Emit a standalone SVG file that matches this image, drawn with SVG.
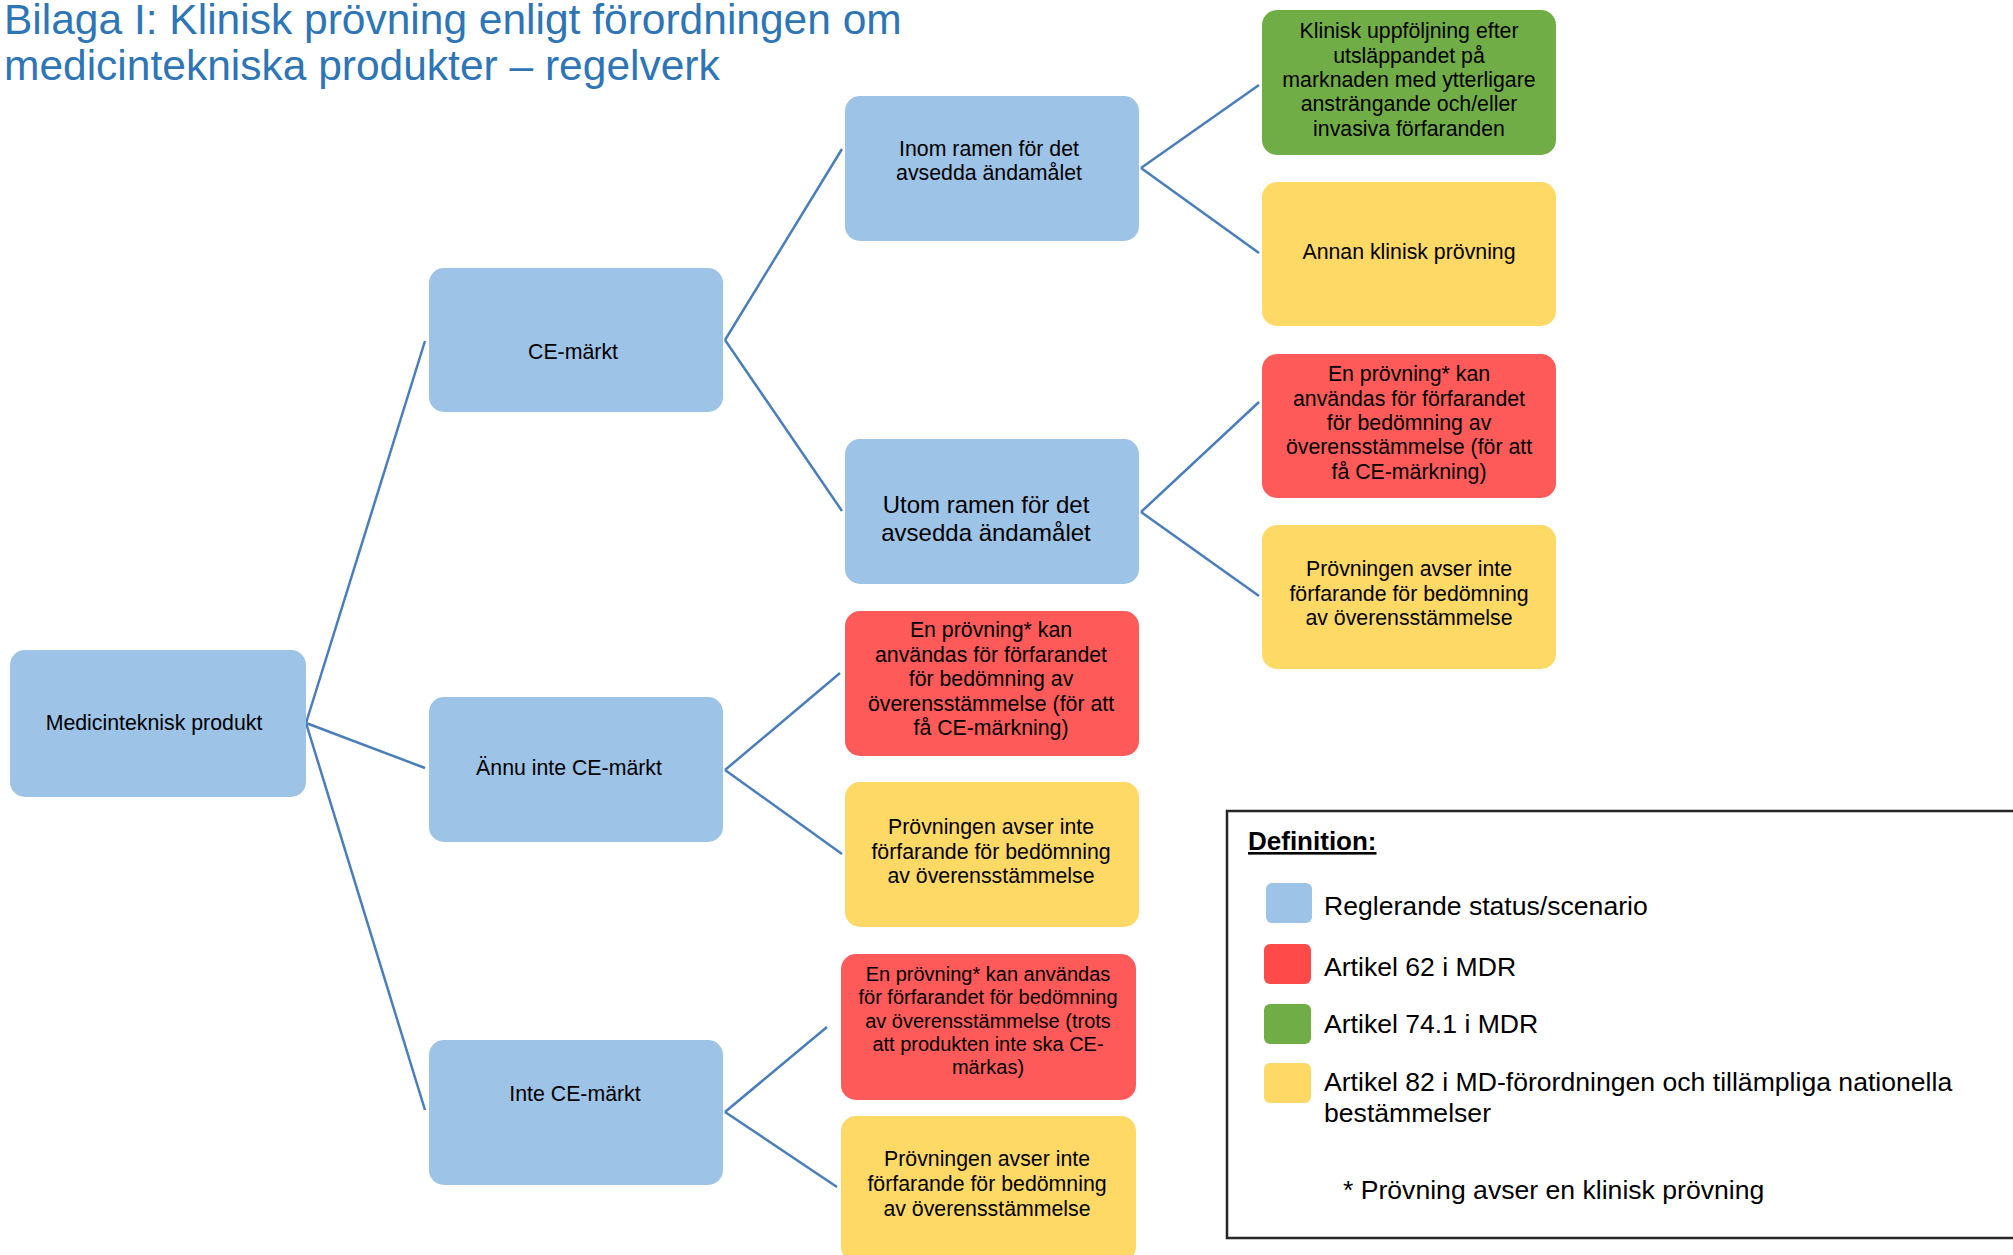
<svg xmlns="http://www.w3.org/2000/svg" width="2013" height="1255" viewBox="0 0 2013 1255">
<style>
  .t { font-family: "Liberation Sans", Arial, sans-serif; fill: #000; text-anchor: middle; }
  .n { font-size: 21.3px; }
  .s { font-size: 20px; }
  .b { fill: #9DC3E6; }
  .r { fill: #FF5A5A; }
  .y { fill: #FFD966; }
  .g { fill: #71AD47; }
  .c { stroke: #4A7EBB; stroke-width: 2.5; fill: none; }
  .lg { font-family: "Liberation Sans", Arial, sans-serif; font-size: 26.6px; fill: #000; }
  .title { font-family: "Liberation Sans", Arial, sans-serif; font-size: 42.5px; fill: #2E75B6; }
</style>
<rect width="2013" height="1255" fill="#fff"/>
<g id="title">
  <text class="title" x="4" y="34">Bilaga I: Klinisk prövning enligt förordningen om</text>
  <text class="title" x="4" y="80">medicintekniska produkter – regelverk</text>
</g>
<g id="connectors">
  <path class="c" d="M306 723 L425 341 M306 723 L425 768 M306 723 L425 1110"/>
  <path class="c" d="M725 340 L842 149 M725 340 L842 511"/>
  <path class="c" d="M725 770 L840 673 M725 770 L842 854"/>
  <path class="c" d="M725 1112 L827 1027 M725 1112 L837 1187"/>
  <path class="c" d="M1141 168 L1259 85 M1141 168 L1259 253"/>
  <path class="c" d="M1141 512 L1259 402 M1141 512 L1259 596"/>
</g>
<g id="node-medicinteknisk">
  <rect class="b" x="10" y="650" width="296" height="147" rx="15"/>
  <text class="t n" x="154" y="730">Medicinteknisk produkt</text>
</g>
<g id="node-ce">
  <rect class="b" x="429" y="268" width="294" height="144" rx="15"/>
  <text class="t n" x="573" y="359">CE-märkt</text>
</g>
<g id="node-annu">
  <rect class="b" x="429" y="697" width="294" height="145" rx="15"/>
  <text class="t n" x="569" y="775">Ännu inte CE-märkt</text>
</g>
<g id="node-inte">
  <rect class="b" x="429" y="1040" width="294" height="145" rx="15"/>
  <text class="t n" x="575" y="1101">Inte CE-märkt</text>
</g>
<g id="node-inom">
  <rect class="b" x="845" y="96" width="294" height="145" rx="15"/>
  <text class="t n" x="989" y="156">Inom ramen för det</text>
  <text class="t n" x="989" y="180">avsedda ändamålet</text>
</g>
<g id="node-utom">
  <rect class="b" x="845" y="439" width="294" height="145" rx="15"/>
  <text class="t" font-size="24" x="986" y="513">Utom ramen för det</text>
  <text class="t" font-size="24" x="986" y="541">avsedda ändamålet</text>
</g>
<g id="node-annu-red">
  <rect class="r" x="845" y="611" width="294" height="145" rx="15"/>
  <text class="t n" x="991" y="637">En prövning* kan</text>
  <text class="t n" x="991" y="662">användas för förfarandet</text>
  <text class="t n" x="991" y="686">för bedömning av</text>
  <text class="t n" x="991" y="711">överensstämmelse (för att</text>
  <text class="t n" x="991" y="735">få CE-märkning)</text>
</g>
<g id="node-annu-yellow">
  <rect class="y" x="845" y="782" width="294" height="145" rx="15"/>
  <text class="t n" x="991" y="834">Prövningen avser inte</text>
  <text class="t n" x="991" y="859">förfarande för bedömning</text>
  <text class="t n" x="991" y="883">av överensstämmelse</text>
</g>
<g id="node-inte-red">
  <rect class="r" x="841" y="954" width="295" height="146" rx="15"/>
  <text class="t s" x="988" y="981">En prövning* kan användas</text>
  <text class="t s" x="988" y="1004">för förfarandet för bedömning</text>
  <text class="t s" x="988" y="1028">av överensstämmelse (trots</text>
  <text class="t s" x="988" y="1051">att produkten inte ska CE-</text>
  <text class="t s" x="988" y="1074">märkas)</text>
</g>
<g id="node-inte-yellow">
  <rect class="y" x="841" y="1116" width="295" height="146" rx="15"/>
  <text class="t n" x="987" y="1166">Prövningen avser inte</text>
  <text class="t n" x="987" y="1191">förfarande för bedömning</text>
  <text class="t n" x="987" y="1216">av överensstämmelse</text>
</g>
<g id="node-green">
  <rect class="g" x="1262" y="10" width="294" height="145" rx="15"/>
  <text class="t n" x="1409" y="38">Klinisk uppföljning efter</text>
  <text class="t n" x="1409" y="63">utsläppandet på</text>
  <text class="t n" x="1409" y="87">marknaden med ytterligare</text>
  <text class="t n" x="1409" y="111">ansträngande och/eller</text>
  <text class="t n" x="1409" y="136">invasiva förfaranden</text>
</g>
<g id="node-annan">
  <rect class="y" x="1262" y="182" width="294" height="144" rx="15"/>
  <text class="t n" x="1409" y="259">Annan klinisk prövning</text>
</g>
<g id="node-utom-red">
  <rect class="r" x="1262" y="354" width="294" height="144" rx="15"/>
  <text class="t n" x="1409" y="381">En prövning* kan</text>
  <text class="t n" x="1409" y="406">användas för förfarandet</text>
  <text class="t n" x="1409" y="430">för bedömning av</text>
  <text class="t n" x="1409" y="454">överensstämmelse  (för att</text>
  <text class="t n" x="1409" y="479">få CE-märkning)</text>
</g>
<g id="node-utom-yellow">
  <rect class="y" x="1262" y="525" width="294" height="144" rx="15"/>
  <text class="t n" x="1409" y="576">Prövningen avser inte</text>
  <text class="t n" x="1409" y="601">förfarande för bedömning</text>
  <text class="t n" x="1409" y="625">av överensstämmelse</text>
</g>
<g id="legend">
  <rect x="1227" y="811" width="800" height="427" fill="#fff" stroke="#262626" stroke-width="2.5"/>
  <text x="1248" y="850" font-family="'Liberation Sans', Arial, sans-serif" font-size="26" font-weight="bold" text-decoration="underline">Definition:</text>
  <rect x="1266" y="883" width="46" height="40" rx="6" fill="#9DC3E6"/>
  <text class="lg" x="1324" y="915">Reglerande status/scenario</text>
  <rect x="1264" y="944" width="47" height="40" rx="6" fill="#FF4A4A"/>
  <text class="lg" x="1324" y="976">Artikel 62 i MDR</text>
  <rect x="1264" y="1004" width="47" height="40" rx="6" fill="#70AD47"/>
  <text class="lg" x="1324" y="1033">Artikel 74.1 i MDR</text>
  <rect x="1264" y="1063" width="47" height="40" rx="6" fill="#FFD966"/>
  <text class="lg" x="1324" y="1091">Artikel 82 i MD-förordningen och tillämpliga nationella</text>
  <text class="lg" x="1324" y="1122">bestämmelser</text>
  <text class="lg" x="1343" y="1199">* Prövning avser en klinisk prövning</text>
</g>
</svg>
